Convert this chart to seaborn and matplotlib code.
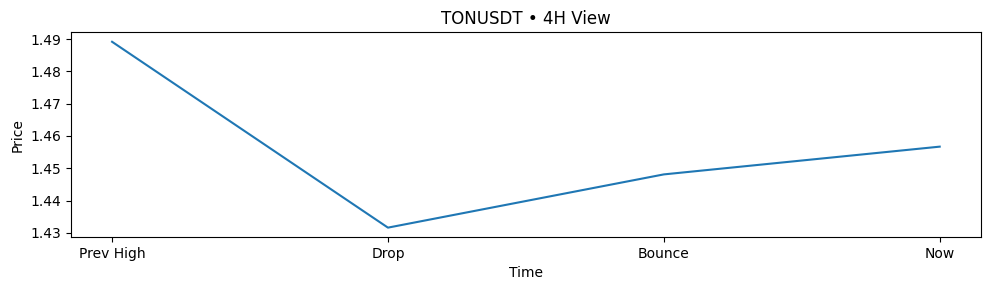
import matplotlib
matplotlib.use("Agg")
import matplotlib.pyplot as plt
from matplotlib.ticker import MultipleLocator
import seaborn as sns
import pandas as pd

labels = ["Prev High", "Drop", "Bounce", "Now"]
prices = [1.4892, 1.4316, 1.4481, 1.4567]

df = pd.DataFrame({"Time": labels, "Price": prices})

fig, ax = plt.subplots(figsize=(9.9, 2.9), dpi=100)
sns.lineplot(data=df, x="Time", y="Price", ax=ax, sort=False)
ax.yaxis.set_major_locator(MultipleLocator(0.01))
ax.set_title("TONUSDT • 4H View")
ax.set_xlabel("Time")
ax.set_ylabel("Price")
fig.subplots_adjust(left=0.0714, right=0.991, top=0.888, bottom=0.183)
fig.savefig("out.png", dpi=100)
